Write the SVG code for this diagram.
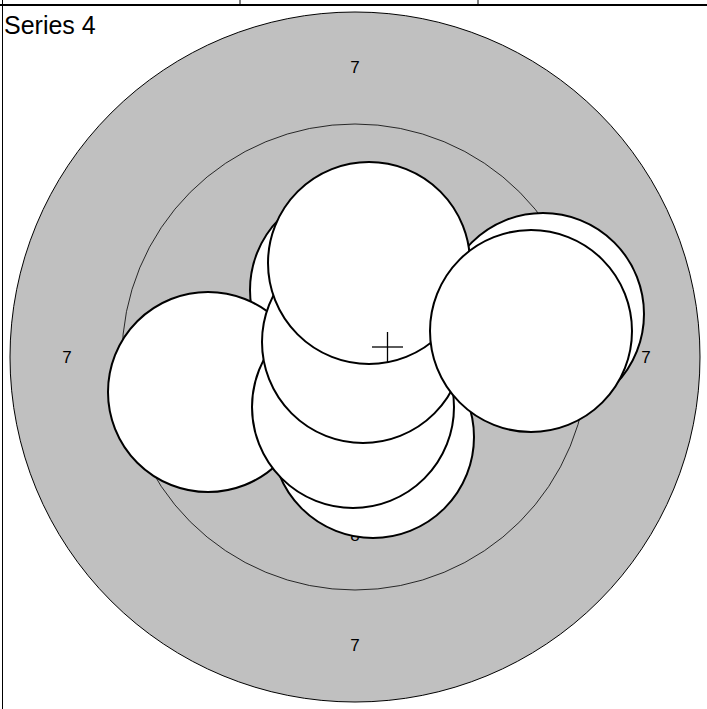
<svg xmlns="http://www.w3.org/2000/svg" width="707" height="709" viewBox="0 0 707 709">
<style>
.frame{stroke:#000;fill:none}
.ring{fill:#c0c0c0;stroke:#000;stroke-width:1}
.ringline{fill:none;stroke:#000;stroke-width:0.8}
.lbl{font-family:"Liberation Sans",Arial,sans-serif;font-size:17px;fill:#000;text-anchor:middle}
.title{font-family:"Liberation Sans",Arial,sans-serif;font-size:25px;fill:#000}
.shot{fill:#fff;stroke:#000;stroke-width:2}
.cross{stroke:#000;stroke-width:1.3;fill:none}
</style>
<rect width="707" height="709" fill="#fff"/>
<g id="frame">
<line class="frame" x1="0" y1="5" x2="707" y2="5" stroke-width="2"/>
<line class="frame" x1="240" y1="0" x2="240" y2="5" stroke-width="1"/>
<line class="frame" x1="478" y1="0" x2="478" y2="5" stroke-width="1"/>
<line class="frame" x1="2.5" y1="0" x2="2.5" y2="709" stroke-width="1"/>
</g>
<text class="title" x="4" y="34">Series 4</text>
<g id="target">
<circle class="ring" cx="355" cy="357" r="345"/>
<circle class="ringline" cx="355" cy="357" r="233"/>
<text class="lbl" x="355" y="73">7</text>
<text class="lbl" x="67" y="363">7</text>
<text class="lbl" x="646" y="363">7</text>
<text class="lbl" x="355" y="651">7</text>
<text class="lbl" x="355" y="541">8</text>
</g>
<g id="shots">
<circle id="shot-r2" class="shot" cx="543" cy="314" r="101"/>
<circle id="shot-b" class="shot" cx="351" cy="290" r="101"/>
<circle id="shot-l" class="shot" cx="208" cy="392" r="100"/>
<circle id="shot-d" class="shot" cx="373" cy="437" r="101"/>
<circle id="shot-c" class="shot" cx="353" cy="407" r="101"/>
<circle id="shot-m" class="shot" cx="363" cy="342" r="101"/>
<circle id="shot-a" class="shot" cx="369" cy="263" r="101"/>
<circle id="shot-r1" class="shot" cx="531" cy="331" r="101"/>
</g>
<g id="mean">
<line class="cross" x1="372" y1="347" x2="403" y2="347"/>
<line class="cross" x1="387.5" y1="332" x2="387.5" y2="362"/>
</g>
</svg>
